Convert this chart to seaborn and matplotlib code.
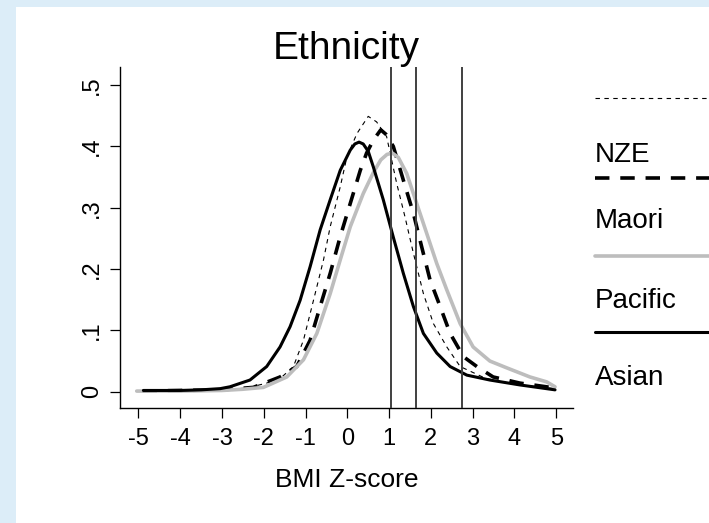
import pandas as pd
import matplotlib
matplotlib.use("Agg")
import matplotlib.pyplot as plt
import seaborn as sns
from matplotlib.lines import Line2D
from matplotlib.patches import Rectangle

sns.set_style("ticks")
plt.rcParams["font.family"] = ["Liberation Sans", "DejaVu Sans"]
plt.rcParams["axes.unicode_minus"] = False
plt.rcParams["text.color"] = "black"
plt.rcParams["axes.labelcolor"] = "black"
plt.rcParams["xtick.color"] = "black"
plt.rcParams["ytick.color"] = "black"

# kernel density curves
nze_x = [-4.9, -4.0, -3.0, -2.4, -1.93, -1.55, -1.29, -1.05, -0.81, -0.57, -0.41, -0.17, -0.01, 0.23, 0.50, 0.70, 0.94, 1.18, 1.38, 1.58, 1.82, 2.06, 2.38, 2.70, 3.3, 4.0, 4.97]
nze_y = [0.001, 0.001, 0.003, 0.006, 0.014, 0.025, 0.041, 0.084, 0.149, 0.215, 0.269, 0.334, 0.383, 0.421, 0.449, 0.44, 0.416, 0.34, 0.285, 0.226, 0.16, 0.111, 0.073, 0.041, 0.022, 0.012, 0.005]

maori_x = [-4.9, -4.0, -3.0, -2.25, -1.61, -1.21, -0.89, -0.65, -0.41, -0.17, 0.07, 0.31, 0.46, 0.62, 0.80, 0.92, 1.10, 1.34, 1.58, 1.78, 1.98, 2.22, 2.46, 2.78, 3.10, 3.49, 4.13, 4.97]
maori_y = [0.001, 0.002, 0.003, 0.007, 0.024, 0.041, 0.084, 0.139, 0.193, 0.253, 0.307, 0.361, 0.389, 0.41, 0.427, 0.42, 0.40, 0.345, 0.291, 0.236, 0.182, 0.139, 0.095, 0.057, 0.041, 0.024, 0.014, 0.006]

pacific_x = [-5.04, -4.0, -3.0, -2.5, -2.01, -1.45, -1.05, -0.73, -0.41, -0.17, 0.07, 0.38, 0.62, 0.80, 0.95, 1.08, 1.22, 1.42, 1.66, 1.90, 2.14, 2.38, 2.70, 3.01, 3.41, 3.81, 4.37, 4.77, 4.97]
pacific_y = [0.001, 0.001, 0.002, 0.004, 0.007, 0.024, 0.052, 0.095, 0.16, 0.215, 0.269, 0.323, 0.357, 0.378, 0.387, 0.389, 0.382, 0.356, 0.307, 0.258, 0.209, 0.166, 0.111, 0.073, 0.05, 0.039, 0.024, 0.016, 0.008]

asian_x = [-4.88, -4.0, -3.5, -3.04, -2.81, -2.33, -1.93, -1.61, -1.37, -1.13, -0.89, -0.65, -0.41, -0.17, 0.07, 0.18, 0.28, 0.38, 0.50, 0.62, 0.86, 1.10, 1.34, 1.58, 1.82, 2.14, 2.46, 2.86, 3.41, 4.13, 4.97]
asian_y = [0.002, 0.002, 0.003, 0.005, 0.008, 0.019, 0.041, 0.073, 0.106, 0.149, 0.204, 0.264, 0.313, 0.361, 0.394, 0.404, 0.407, 0.404, 0.392, 0.367, 0.313, 0.252, 0.193, 0.139, 0.095, 0.063, 0.041, 0.027, 0.019, 0.011, 0.003]

cutoffs = [1.05, 1.64, 2.75]
labels = ["NZE", "Maori", "Pacific", "Asian"]

series = [
    (nze_x, nze_y, "black", (0, (4, 4)), 0.8),
    (maori_x, maori_y, "black", (0, (4, 3)), 2.6),
    (pacific_x, pacific_y, "#bdbdbd", "-", 2.6),
    (asian_x, asian_y, "black", "-", 2.2),
]

fig = plt.figure(figsize=(7.09, 5.23), dpi=100)
fig.patch.set_facecolor("#dcedf8")
fig.add_artist(Rectangle((16 / 709, 0), 1, 1 - 7 / 523, transform=fig.transFigure,
                         facecolor="white", edgecolor="none", zorder=0))

ax = fig.add_axes([120 / 709, 1 - 408 / 523, 453 / 709, 340.7 / 523])
ax.set_facecolor("white")

for xs, ys, col, ls, lw in series:
    df = pd.DataFrame({"x": xs, "y": ys})
    sns.lineplot(data=df, x="x", y="y", ax=ax, color=col, linestyle=ls, lw=lw, sort=False)

for c in cutoffs:
    ax.axvline(c, color="#404040", lw=1.4, zorder=5)

ax.set_xlim(-5.44, 5.40)
ax.set_ylim(-0.0266, 0.529)
ax.set_xticks(range(-5, 6))
ax.set_yticks([0, 0.1, 0.2, 0.3, 0.4, 0.5])
ax.set_yticklabels(["0", ".1", ".2", ".3", ".4", ".5"], rotation=90, va="center")
ax.tick_params(axis="both", labelsize=17, length=7.5, width=0.9, color="black")
ax.tick_params(axis="x", pad=7)
ax.tick_params(axis="y", pad=5)
sns.despine(ax=ax)
for s in ["left", "bottom"]:
    ax.spines[s].set_linewidth(1.0)
    ax.spines[s].set_color("black")
ax.set_xlabel("BMI Z-score", fontsize=19, labelpad=13)
ax.set_ylabel("")
ax.set_title("Ethnicity", fontsize=28, pad=6)

# Stata-style legend: key line above each label
key_y = [98.3, 178.3, 255.7, 332.3]
text_y = [162, 228, 308, 385]
for (xs, ys, col, ls, lw), lab, ky, ty in zip(series, labels, key_y, text_y):
    fig.add_artist(Line2D([595 / 709, 1.0], [1 - ky / 523] * 2, transform=fig.transFigure,
                          color=col, linestyle=ls, lw=lw))
    fig.text(595 / 709, 1 - ty / 523, lab, fontsize=20, va="baseline", ha="left")

fig.savefig("out.png", dpi=100)
